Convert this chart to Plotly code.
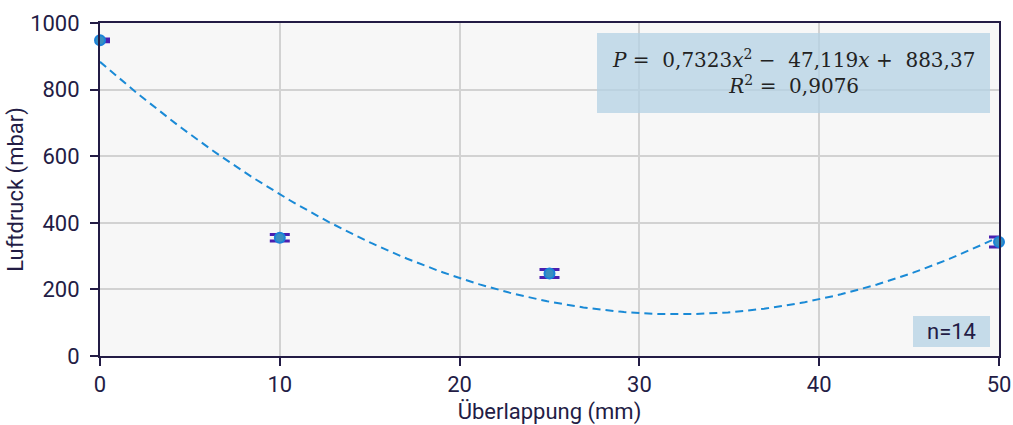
import numpy as np
import plotly.graph_objects as go

# Data
overlap_mm = [0, 10, 25, 50]
pressure_mbar = [948, 355, 248, 342]
pressure_err = [4, 10, 12, 15]
fit_coeffs = [0.7323, -47.119, 883.37]  # quadratic trendline shown in chart
x_ticks = [0, 10, 20, 30, 40, 50]
y_ticks = [0, 200, 400, 600, 800, 1000]

NAVY = "#231c45"
FONT = "Roboto"

xf = np.linspace(min(overlap_mm), max(overlap_mm), 200)
yf = np.polyval(fit_coeffs, xf)

fig = go.Figure()
fig.add_trace(go.Scatter(
    x=xf, y=yf, mode="lines",
    line=dict(color="#1a8ad6", width=2, dash="8px,5px"),
    hoverinfo="skip", showlegend=False, cliponaxis=False))
fig.add_trace(go.Scatter(
    x=overlap_mm, y=pressure_mbar, mode="markers",
    marker=dict(size=10, color="#3a8fbf", line=dict(color="#1a82d8", width=2)),
    error_y=dict(type="data", array=pressure_err, visible=True,
                 color="#4a1fb0", thickness=3, width=10),
    showlegend=False, cliponaxis=False))

W, H = 1013, 425
L, R, T, B = 100, 14, 23, 69
PW, PH = W - L - R, H - T - B

def px(x):
    return (x - L) / PW

def py(y):
    return (H - B - y) / PH

fig.update_layout(
    width=W, height=H,
    margin=dict(l=L, r=R, t=T, b=B, pad=0),
    paper_bgcolor="white", plot_bgcolor="#f7f7f7",
    font=dict(family=FONT, color=NAVY, size=22),
    xaxis=dict(range=[0, 50], tickvals=x_ticks, showgrid=True,
               gridcolor="#d2d2d2", gridwidth=2,
               showline=True, linecolor=NAVY, linewidth=2, mirror=True,
               ticks="outside", ticklen=8, tickcolor=NAVY, tickwidth=2,
               zeroline=False, automargin=False,
               title=dict(text="Überlappung (mm)", font=dict(size=22, color=NAVY), standoff=11),
               tickfont=dict(size=22, color=NAVY)),
    yaxis=dict(range=[0, 1000], tickvals=y_ticks, showgrid=True,
               gridcolor="#d2d2d2", gridwidth=2,
               showline=True, linecolor=NAVY, linewidth=2, mirror=True,
               ticks="outside", ticklen=8, tickcolor=NAVY, tickwidth=2,
               zeroline=False, automargin=False, ticklabelstandoff=6,
               title=dict(text="Luftdruck (mbar)", font=dict(size=22, color=NAVY), standoff=0),
               tickfont=dict(size=22, color=NAVY)),
)

fig.add_shape(type="rect", xref="paper", yref="paper",
              x0=px(597), x1=px(990), y0=py(113), y1=py(33),
              fillcolor="rgba(180,210,228,0.75)", line=dict(width=0), layer="above")
fig.add_annotation(xref="paper", yref="paper", xanchor="center", yanchor="middle",
                   x=px(793), y=py(72),
                   text="<i>P</i> =  0,7323<i>x</i><sup>2</sup> −  47,119<i>x</i> +  883,37<br><i>R</i><sup>2</sup> =  0,9076",
                   showarrow=False, align="center",
                   font=dict(family="DejaVu Serif", size=20, color="#222222"))

fig.add_shape(type="rect", xref="paper", yref="paper",
              x0=px(913), x1=px(990), y0=py(347), y1=py(316),
              fillcolor="rgba(180,210,228,0.75)", line=dict(width=0), layer="above")
fig.add_annotation(xref="paper", yref="paper", xanchor="center", yanchor="middle",
                   x=px(951), y=py(331),
                   text="n=14", showarrow=False,
                   font=dict(family=FONT, size=22, color=NAVY))

fig.write_html("out.html")
